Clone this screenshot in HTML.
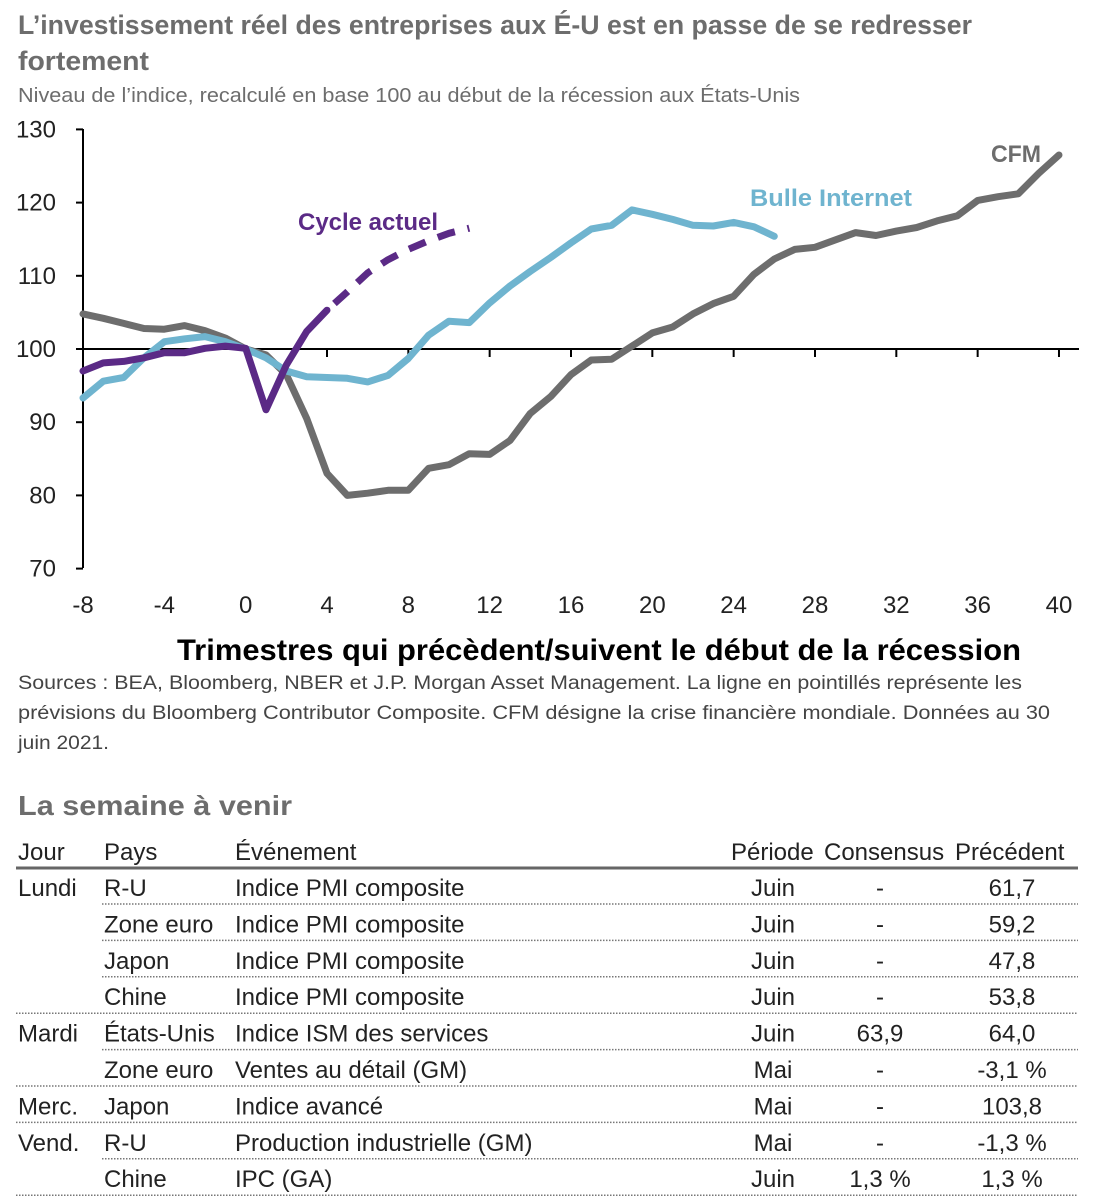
<!DOCTYPE html>
<html><head><meta charset="utf-8">
<style>
html,body{margin:0;padding:0;background:#fff;width:1096px;height:1200px;overflow:hidden}
svg{display:block}
text{font-family:"Liberation Sans Narrow","Liberation Sans",sans-serif}
</style></head>
<body>
<svg id="s" width="1096" height="1200" viewBox="0 0 1096 1200">
<text x="18" y="34" font-size="27" font-weight="bold" fill="#6d6d6d" textLength="954" lengthAdjust="spacingAndGlyphs">L’investissement réel des entreprises aux É-U est en passe de se redresser</text>
<text x="18" y="70" font-size="27" font-weight="bold" fill="#6d6d6d" textLength="131" lengthAdjust="spacingAndGlyphs">fortement</text>
<text x="18" y="102" font-size="20" fill="#6d6d6d" textLength="782" lengthAdjust="spacingAndGlyphs">Niveau de l’indice, recalculé en base 100  au début de la récession aux États-Unis</text>
<g id="axes" stroke="#000" stroke-width="2"></g>
<g id="labels" font-size="24" fill="#222"></g>
<g id="series" fill="none" stroke-width="7" stroke-linejoin="round" stroke-linecap="round"></g>
<text x="991" y="162" font-size="24" font-weight="bold" fill="#6d6d6d" textLength="50" lengthAdjust="spacingAndGlyphs">CFM</text>
<text x="750" y="206" font-size="24" font-weight="bold" fill="#6fb4cf" textLength="162" lengthAdjust="spacingAndGlyphs">Bulle Internet</text>
<text x="298" y="230" font-size="24" font-weight="bold" fill="#5b2a86" textLength="140" lengthAdjust="spacingAndGlyphs">Cycle actuel</text>
<text x="177" y="660" font-size="30" font-weight="bold" fill="#000" textLength="844" lengthAdjust="spacingAndGlyphs">Trimestres qui précèdent/suivent le début de la récession</text>
<g font-size="19" fill="#444">
<text x="18" y="689" textLength="1004" lengthAdjust="spacingAndGlyphs">Sources : BEA, Bloomberg, NBER et J.P. Morgan Asset Management. La ligne en pointillés représente les</text>
<text x="18" y="719" textLength="1032" lengthAdjust="spacingAndGlyphs">prévisions du Bloomberg Contributor Composite. CFM désigne la crise financière mondiale. Données au 30</text>
<text x="18" y="749" textLength="91" lengthAdjust="spacingAndGlyphs">juin 2021.</text>
</g>
<text x="18" y="815" font-size="28" font-weight="bold" fill="#6d6d6d" textLength="274" lengthAdjust="spacingAndGlyphs">La semaine à venir</text>
<g id="table" font-size="24" fill="#222"></g>
</svg>
<script>
var NS="http://www.w3.org/2000/svg";
function el(p,t,a,txt){var e=document.createElementNS(NS,t);for(var k in a)e.setAttribute(k,a[k]);if(txt!=null)e.textContent=txt;p.appendChild(e);return e;}
function X(q){return 83+(q+8)*20.333;}
function Y(v){return 349-(v-100)*7.32;}
var ax=document.getElementById('axes'),lb=document.getElementById('labels');
el(ax,'line',{x1:83,y1:129,x2:83,y2:568});
el(ax,'line',{x1:83,y1:349,x2:1079,y2:349});
for(var v=70;v<=130;v+=10){el(ax,'line',{x1:76,y1:Y(v),x2:83,y2:Y(v)});el(lb,'text',{x:56,y:Y(v)+8,'text-anchor':'end'},v);}
for(var q=-8;q<=40;q+=4){if(q>0)el(ax,'line',{x1:X(q),y1:349,x2:X(q),y2:357});el(lb,'text',{x:X(q),y:613,'text-anchor':'middle'},q);}
var cfm=[104.8,104.2,103.5,102.8,102.7,103.2,102.5,101.5,100,99.2,96.5,90.5,83,80,80.3,80.7,80.7,83.7,84.2,85.7,85.6,87.5,91.2,93.5,96.5,98.5,98.6,100.4,102.2,103,104.8,106.2,107.2,110.2,112.3,113.6,113.9,114.9,115.9,115.5,116.1,116.6,117.5,118.2,120.3,120.8,121.2,124,126.5];
var bub=[93.3,95.6,96.1,98.8,101,101.4,101.7,101,100,98.8,97,96.2,96.1,96,95.5,96.4,98.7,101.9,103.8,103.6,106.3,108.6,110.6,112.5,114.5,116.4,116.9,119,118.4,117.7,116.9,116.8,117.3,116.7,115.4];
var cyc=[97,98.1,98.3,98.8,99.5,99.5,100.1,100.4,100.1,91.7,97.8,102.4,105.3];
function pts(a,s){return a.map(function(v,i){return X(i+(s||-8)).toFixed(1)+","+Y(v).toFixed(1);}).join(" ");}
var sr=document.getElementById('series');
el(sr,'polyline',{points:pts(cfm),stroke:'#6d6d6d'});
el(sr,'polyline',{points:pts(bub),stroke:'#6fb4cf'});
el(sr,'polyline',{points:pts(cyc),stroke:'#5b2a86'});
var dash=[[4,105.3],[5,107.8],[6,110.4],[7,112.2],[8,113.6],[9,114.8],[10,115.8],[11,116.5]];
el(sr,'polyline',{points:dash.map(function(p){return X(p[0]).toFixed(1)+","+Y(p[1]).toFixed(1)}).join(" "),stroke:'#5b2a86','stroke-dasharray':'18 13','stroke-dashoffset':'-10','stroke-linecap':'butt'});
var tb=document.getElementById('table');
el(tb,'text',{x:18,y:860},'Jour');el(tb,'text',{x:104,y:860},'Pays');el(tb,'text',{x:235,y:860},'Événement');
el(tb,'text',{x:731,y:860},'Période');el(tb,'text',{x:824,y:860},'Consensus');el(tb,'text',{x:955,y:860},'Précédent');
el(tb,'line',{x1:16,y1:868,x2:1078,y2:868,stroke:'#666','stroke-width':3});
var rows=[['Lundi','R-U','Indice PMI composite','Juin','-','61,7',0],['','Zone euro','Indice PMI composite','Juin','-','59,2',0],['','Japon','Indice PMI composite','Juin','-','47,8',0],['','Chine','Indice PMI composite','Juin','-','53,8',1],['Mardi','États-Unis','Indice ISM des services','Juin','63,9','64,0',0],['','Zone euro','Ventes au détail (GM)','Mai','-','-3,1 %',1],['Merc.','Japon','Indice avancé','Mai','-','103,8',1],['Vend.','R-U','Production industrielle (GM)','Mai','-','-1,3 %',0],['','Chine','IPC (GA)','Juin','1,3 %','1,3 %',1]];
rows.forEach(function(r,i){var y=896+i*36.4;
el(tb,'text',{x:18,y:y},r[0]);el(tb,'text',{x:104,y:y},r[1]);el(tb,'text',{x:235,y:y},r[2]);
el(tb,'text',{x:773,y:y,'text-anchor':'middle'},r[3]);el(tb,'text',{x:880,y:y,'text-anchor':'middle'},r[4]);el(tb,'text',{x:1012,y:y,'text-anchor':'middle'},r[5]);
var ly=y+8;el(tb,'line',{x1:r[6]?16:102,y1:ly,x2:1078,y2:ly,stroke:'#777','stroke-width':1.5,'stroke-dasharray':'1.5 1.5'});});
</script>
</body></html>
